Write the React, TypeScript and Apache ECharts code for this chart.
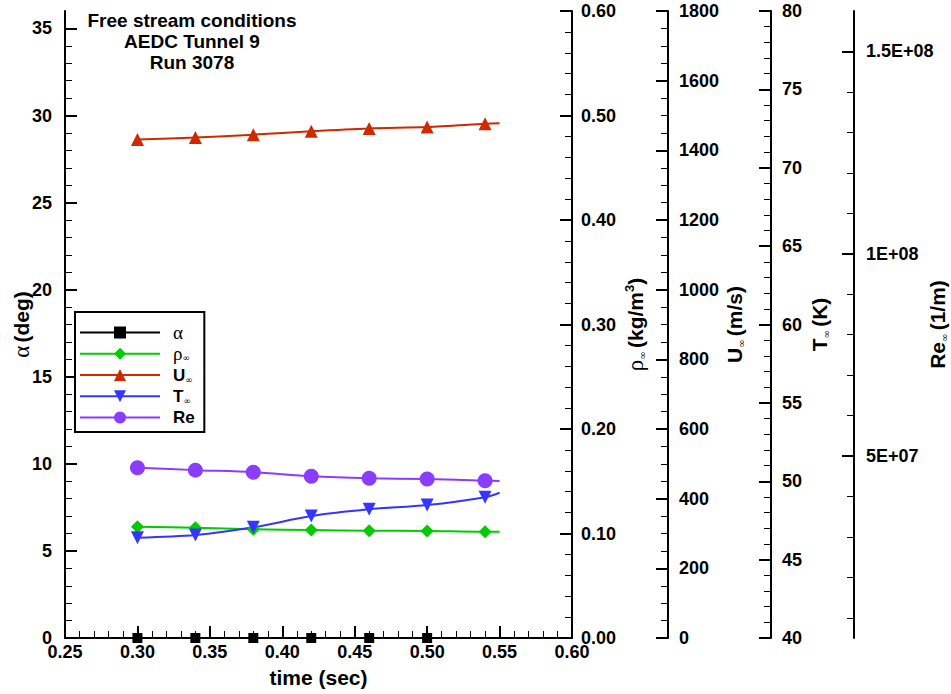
import React, { useEffect, useRef } from 'react';
import * as echarts from 'echarts';

const SANS = '"Liberation Sans", Arial, Helvetica, sans-serif';
const SERIF = '"Liberation Serif", "DejaVu Serif", serif';

const timeValues = [0.30, 0.34, 0.38, 0.42, 0.46, 0.50, 0.54, 0.55];
const alphaTime = [0.30, 0.34, 0.38, 0.42, 0.46, 0.50];
const alphaValues = [0, 0, 0, 0, 0, 0];
const rhoValues = [0.1065, 0.1056, 0.1040, 0.1033, 0.1027, 0.1024, 0.1017, 0.1017];
const uValues = [1431, 1437, 1445, 1455, 1463, 1467, 1476, 1478];
const tValues = [46.40, 46.57, 47.06, 47.78, 48.21, 48.48, 48.98, 49.27];
const reValues = [4.71e7, 4.65e7, 4.60e7, 4.50e7, 4.45e7, 4.43e7, 4.39e7, 4.38e7];

const seriesNames = ['α', 'ρ∞', 'U∞', 'T∞', 'Re'];
const legendLabels = ['{g|α}', '{g|ρ}{sub|∞}', '{b|U}{sub|∞}', '{b|T}{sub|∞}', '{b|Re}'];
const seriesColors = ['#000000', '#00cc00', '#d02800', '#3535ff', '#8a3cff'];
const alphaTicks = [0, 5, 10, 15, 20, 25, 30, 35];
const reTickValues = [5e7, 1e8, 1.5e8];
const reTickLabels = ['5E+07', '1E+08', '1.5E+08'];
const titleLines = ['Free stream conditions', 'AEDC Tunnel 9', 'Run 3078'];

const nameRich = {
  b: { fontSize: 21, fontWeight: 'bold', fontFamily: SANS, color: '#000', lineHeight: 24 },
  g: { fontSize: 23, fontFamily: SERIF, color: '#000', lineHeight: 24 },
  sub: { fontSize: 10, fontFamily: '"DejaVu Sans", sans-serif', color: '#000', verticalAlign: 'bottom', lineHeight: 24 },
  sup: { fontSize: 13, fontWeight: 'bold', fontFamily: SANS, color: '#000', verticalAlign: 'top', lineHeight: 24 },
};

const legendRich = {
  b: { fontSize: 17, fontWeight: 'bold', fontFamily: SANS, fill: '#000', color: '#000', lineHeight: 18 },
  g: { fontSize: 19, fontFamily: SERIF, fill: '#000', color: '#000', lineHeight: 18 },
  sub: { fontSize: 9, fontFamily: '"DejaVu Sans", sans-serif', fill: '#000', color: '#000', verticalAlign: 'bottom', lineHeight: 18 },
};

const labelStyle = { color: '#000', fontSize: 18, fontWeight: 'bold', fontFamily: SANS };

function mkSeries(values: number[]) {
  return values.map((v, i) => {
    const item: any = { value: [timeValues[i], v] };
    if (i === values.length - 1) item.symbol = 'none';
    return item;
  });
}

function yAxisBase(extra: any) {
  return {
    type: 'value',
    nameLocation: 'middle',
    nameMoveOverlap: false,
    axisLine: { show: true, onZero: false, lineStyle: { color: '#000', width: 2 } },
    axisTick: { show: true, inside: true, length: 12, lineStyle: { color: '#000', width: 2 } },
    minorTick: { show: true, splitNumber: 5, length: 7, lineStyle: { color: '#000', width: 1 } },
    splitLine: { show: false },
    minorSplitLine: { show: false },
    nameTextStyle: { rich: nameRich },
    ...extra,
  };
}

const LEGEND_TOP = 312;
const LEGEND_LEFT = 75;
const LEGEND_PAD_TOP = 13;
const LEGEND_ITEM_H = 15;
const LEGEND_GAP = 6.25;

export default function App() {
  const ref = useRef<HTMLDivElement>(null);
  useEffect(() => {
    if (!ref.current) return;
    const chart = echarts.init(ref.current, undefined, { renderer: 'svg' });
    const legendTexts = legendLabels.map((lbl, i) => ({
      type: 'text',
      z: 100,
      x: 173,
      y: LEGEND_TOP + LEGEND_PAD_TOP + LEGEND_ITEM_H / 2 + i * (LEGEND_ITEM_H + LEGEND_GAP),
      style: {
        text: lbl,
        rich: legendRich,
        textAlign: 'left',
        textVerticalAlign: 'middle',
        verticalAlign: 'middle',
        fill: '#000',
      },
    }));
    const option: any = {
      animation: false,
      backgroundColor: '#ffffff',
      graphic: [
        {
          type: 'text',
          x: 192,
          y: 10,
          style: {
            text: titleLines.join('\n'),
            textAlign: 'center',
            fontSize: 19,
            fontWeight: 'bold',
            fontFamily: SANS,
            lineHeight: 21,
            fill: '#000',
          },
        },
        ...legendTexts,
      ],
      grid: { left: 65, right: 379, top: 11, bottom: 56, containLabel: false, outerBoundsMode: 'none' },
      legend: {
        orient: 'vertical',
        left: LEGEND_LEFT,
        top: LEGEND_TOP,
        itemWidth: 80,
        itemHeight: LEGEND_ITEM_H,
        itemGap: LEGEND_GAP,
        padding: [LEGEND_PAD_TOP, 36, 7, 4],
        borderColor: '#000',
        borderWidth: 2,
        backgroundColor: '#fff',
        data: seriesNames,
        formatter: () => ' ',
        textStyle: { fontSize: 12, lineHeight: 15, color: 'rgba(0,0,0,0)' },
      },
      xAxis: {
        type: 'value',
        min: 0.25,
        max: 0.6,
        interval: 0.05,
        name: 'time (sec)',
        nameLocation: 'middle',
        nameGap: 29,
        nameTextStyle: { fontSize: 21, fontWeight: 'bold', fontFamily: SANS, color: '#000' },
        axisLine: { show: true, onZero: false, lineStyle: { color: '#000', width: 2 } },
        axisTick: { show: true, inside: true, length: 12, lineStyle: { color: '#000', width: 2 } },
        minorTick: { show: true, splitNumber: 5, length: 7, lineStyle: { color: '#000', width: 1 } },
        splitLine: { show: false },
        axisLabel: { ...labelStyle, margin: 5, formatter: (v: number) => v.toFixed(2) },
      },
      yAxis: [
        yAxisBase({
          position: 'left',
          min: 0,
          max: 36,
          interval: 5,
          name: '{g|α} {b|(deg)}',
          nameGap: 32,
          axisLabel: { ...labelStyle, margin: 13, customValues: alphaTicks },
          axisTick: { show: true, inside: true, length: 12, lineStyle: { color: '#000', width: 2 }, customValues: alphaTicks },
        }),
        yAxisBase({
          position: 'right',
          offset: 0,
          min: 0,
          max: 0.6,
          interval: 0.1,
          name: '{g|ρ}{sub|∞} {b|(kg/m}{sup|3}{b|)}',
          nameGap: 51,
          axisLabel: { ...labelStyle, margin: 9, formatter: (v: number) => v.toFixed(2) },
        }),
        yAxisBase({
          position: 'right',
          offset: 96,
          min: 0,
          max: 1800,
          interval: 200,
          name: '{b|U}{sub|∞} {b|(m/s)}',
          nameGap: 54,
          minorTick: { show: true, splitNumber: 4, length: 7, lineStyle: { color: '#000', width: 1 } },
          axisLabel: { ...labelStyle, margin: 11, formatter: (v: number) => String(v) },
        }),
        yAxisBase({
          position: 'right',
          offset: 199,
          min: 40,
          max: 80,
          interval: 5,
          name: '{b|T}{sub|∞} {b|(K)}',
          nameGap: 36,
          axisLabel: { ...labelStyle, margin: 11, formatter: (v: number) => String(v) },
        }),
        yAxisBase({
          position: 'right',
          offset: 282,
          min: 5e6,
          max: 1.6e8,
          splitNumber: 3,
          name: '{b|Re}{sub|∞} {b|(1/m)}',
          nameGap: 71,
          axisTick: { show: true, inside: true, length: 12, lineStyle: { color: '#000', width: 2 }, customValues: reTickValues },
          axisLabel: {
            ...labelStyle, margin: 12,
            customValues: reTickValues,
            formatter: (v: number) => {
              const i = reTickValues.findIndex((t) => Math.abs(t - v) < 1);
              return i >= 0 ? reTickLabels[i] : '';
            },
          },
        }),
      ],
      series: [
        {
          name: seriesNames[0], type: 'line', yAxisIndex: 0, clip: false,
          data: alphaValues.map((v, i) => [alphaTime[i], v]),
          symbol: 'rect', symbolSize: 10,
          lineStyle: { color: seriesColors[0], width: 2 }, itemStyle: { color: seriesColors[0] },
        },
        {
          name: seriesNames[1], type: 'line', yAxisIndex: 1, smooth: 0.3,
          data: mkSeries(rhoValues),
          symbol: 'diamond', symbolSize: 13,
          lineStyle: { color: seriesColors[1], width: 2 }, itemStyle: { color: seriesColors[1] },
        },
        {
          name: seriesNames[2], type: 'line', yAxisIndex: 2, smooth: 0.3,
          data: mkSeries(uValues),
          symbol: 'triangle', symbolSize: 13,
          lineStyle: { color: seriesColors[2], width: 2 }, itemStyle: { color: seriesColors[2] },
        },
        {
          name: seriesNames[3], type: 'line', yAxisIndex: 3, smooth: 0.3,
          data: mkSeries(tValues),
          symbol: 'triangle', symbolRotate: 180, symbolSize: 13,
          lineStyle: { color: seriesColors[3], width: 2 }, itemStyle: { color: seriesColors[3] },
        },
        {
          name: seriesNames[4], type: 'line', yAxisIndex: 4, smooth: 0.3,
          data: mkSeries(reValues),
          symbol: 'circle', symbolSize: 15,
          lineStyle: { color: seriesColors[4], width: 2 }, itemStyle: { color: seriesColors[4] },
        },
      ],
    };
    chart.setOption(option);
    return () => chart.dispose();
  }, []);
  return (
    <div
      ref={ref}
      style={{ position: 'fixed', left: 0, top: 0, width: 951, height: 694, background: '#fff' }}
    />
  );
}
